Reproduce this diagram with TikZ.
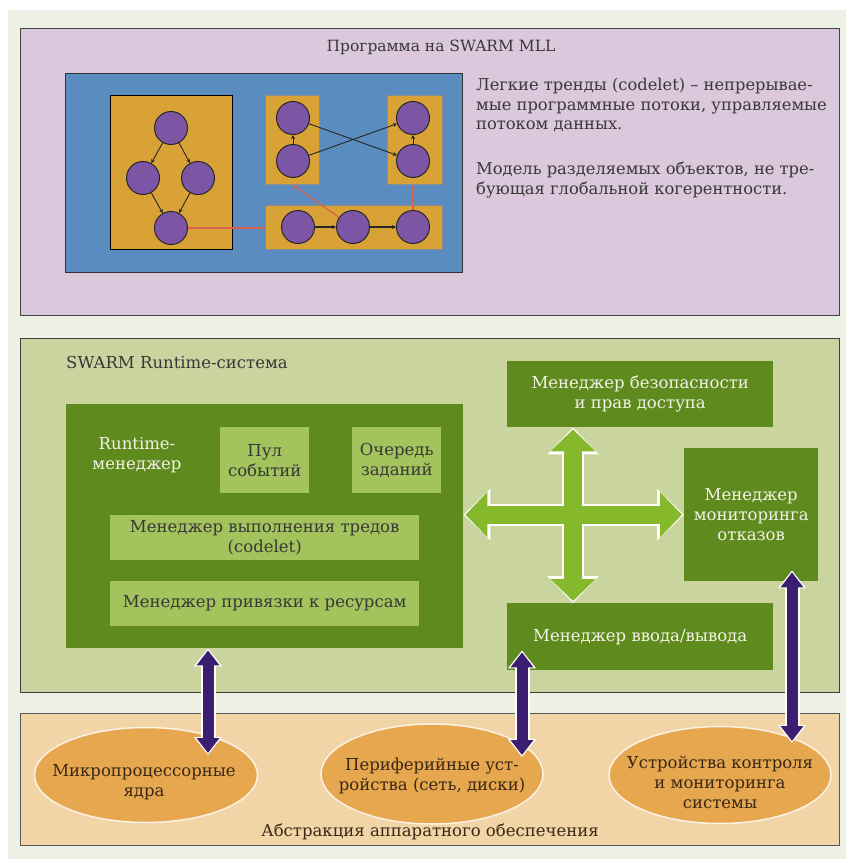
\documentclass[tikz,border=0pt]{standalone}
\usepackage{fontspec}
\setmainfont{DejaVu Serif}
\usetikzlibrary{arrows.meta,calc,shapes.geometric}
\definecolor{pagebg}{HTML}{EEF1E6}
\definecolor{lilac}{HTML}{DCC8DC}
\definecolor{bluebg}{HTML}{5B8CBF}
\definecolor{gold}{HTML}{D9A236}
\definecolor{violet}{HTML}{7D55A5}
\definecolor{redl}{HTML}{D8624E}
\definecolor{olivebg}{HTML}{C9D49E}
\definecolor{dgreen}{HTML}{5E8A1E}
\definecolor{lgreen}{HTML}{A3C35C}
\definecolor{agreen}{HTML}{86B82C}
\definecolor{peach}{HTML}{F2D5A6}
\definecolor{orell}{HTML}{E6A74F}
\definecolor{indigo}{HTML}{3B1E70}
\definecolor{txt}{HTML}{383838}
\definecolor{brown}{HTML}{3A2816}
\definecolor{wtxt}{HTML}{F2F2E6}
\tikzset{
  box/.style={rectangle, inner sep=0pt, anchor=north west},
  panel/.style={box, draw=black!75, line width=1.4pt},
  gbox/.style={box, fill=dgreen},
  lbox/.style={box, fill=lgreen},
  obox/.style={box, fill=gold, draw=black!45, line width=0.8pt},
  cnode/.style={circle, fill=violet, draw=black!85, line width=1pt, minimum size=33pt, inner sep=0pt},
  garr/.style={-{Stealth[length=4pt,width=4pt]}, black!85, line width=0.9pt},
  barr/.style={-{Stealth[length=4pt,width=4pt]}, black!85, line width=1.6pt},
  rarr/.style={-{Stealth[length=4pt,width=4pt]}, redl, line width=1.2pt},
  ell/.style={ellipse, fill=orell, draw=white!85!orell, line width=1.5pt, inner sep=0pt},
  lab/.style={font=\fontsize{16.5}{20}\selectfont, align=center, inner sep=0pt},
  ttlstyle/.style={font=\fontsize{15.5}{19}\selectfont, align=center, inner sep=0pt},
  parastyle/.style={font=\fontsize{16.3}{19.5}\selectfont, align=left, inner sep=0pt},
}
\begin{document}
\begin{tikzpicture}[x=1pt,y=-1pt]
\useasboundingbox (0,0) rectangle (846,859);
\fill[white] (0,0) rectangle (846,859);
\fill[pagebg] (8,10) rectangle (846,859);

% ---------- top panel ----------
\node[panel, fill=lilac, minimum width=819pt, minimum height=287pt] (top) at (20,28) {};
\node[ttlstyle, text=txt] (ttl) at (441,47) {Программа на SWARM MLL};
\node[box, fill=bluebg, draw=black!80, line width=1.2pt, minimum width=397pt, minimum height=199pt] (blue) at (65,73) {};
\node[box, fill=gold, draw=black, line width=1.3pt, minimum width=122pt, minimum height=154pt] (lb) at (110,95) {};
\node[obox, minimum width=54pt, minimum height=89pt] (tm) at (265,95) {};
\node[obox, minimum width=55pt, minimum height=89pt] (tr) at (387,95) {};
\node[obox, minimum width=177pt, minimum height=44pt] (bb) at (265,205) {};

\node[cnode] (l1) at (171,128) {};
\node[cnode] (l2) at (143,178) {};
\node[cnode] (l3) at (198,178) {};
\node[cnode] (l4) at (171,228) {};
\node[cnode] (m1) at (293,118) {};
\node[cnode] (m2) at (293,161) {};
\node[cnode] (r1) at (413,118) {};
\node[cnode] (r2) at (413,161) {};
\node[cnode] (b1) at (298,227) {};
\node[cnode] (b2) at (353,227) {};
\node[cnode] (b3) at (413,227) {};

\draw[garr] (l1) -- (l2);
\draw[garr] (l1) -- (l3);
\draw[garr] (l2) -- (l4);
\draw[garr] (l3) -- (l4);
\draw[garr] (m2) -- (m1);
\draw[garr] (r2) -- (r1);
\draw[garr] (m1) -- (r2);
\draw[garr] (m2) -- (r1);
\draw[barr] (b1) -- (b2);
\draw[barr] (b2) -- (b3);
\draw[rarr] (l4) -- (l4 -| bb.west);
\draw[rarr] (b2) -- (tm.south);
\draw[rarr] (b3) -- (tr.south -| b3);

\node[parastyle, text=txt, anchor=north west] (para) at (476,78)
 {Легкие тренды (codelet) – непрерывае-\\
  мые программные потоки, управляемые\\
  потоком данных.\\[25.5pt]
  Модель разделяемых объектов, не тре-\\
  бующая глобальной когерентности.};

% ---------- middle panel ----------
\node[panel, fill=olivebg, minimum width=819pt, minimum height=354pt] (mid) at (20,338) {};
\node[lab, text=txt, anchor=west] (mttl) at (66,362) {SWARM Runtime-система};

\node[gbox, minimum width=397pt, minimum height=244pt] (rt) at (66,404) {};
\node[lab, text=wtxt] (rtl) at (137,455) {Runtime-\\менеджер};
\node[lbox, minimum width=89pt, minimum height=66pt] (pool) at (220,427) {};
\node[lab, text=txt] at (pool.center) {Пул\\событий};
\node[lbox, minimum width=89pt, minimum height=66pt] (queue) at (352,427) {};
\node[lab, text=txt] at (queue.center) {Очередь\\заданий};
\node[lbox, minimum width=309pt, minimum height=45pt] (exec) at (110,515) {};
\node[lab, text=txt] at (exec.center) {Менеджер выполнения тредов\\(codelet)};
\node[lbox, minimum width=309pt, minimum height=45pt] (bind) at (110,581) {};
\node[lab, text=txt] at (bind.center) {Менеджер привязки к ресурсам};

\node[gbox, minimum width=266pt, minimum height=66pt] (sec) at (507,361) {};
\node[lab, text=wtxt] at (sec.center) {Менеджер безопасности\\и прав доступа};
\node[gbox, minimum width=134pt, minimum height=133pt] (flt) at (684,448) {};
\node[lab, text=wtxt] at (flt.center) {Менеджер\\мониторинга\\отказов};
\node[gbox, minimum width=266pt, minimum height=67pt] (io) at (507,603) {};
\node[lab, text=wtxt] at (io.center) {Менеджер ввода/вывода};

\coordinate (vx) at (573,0);
\coordinate (hl) at (flt.west -| rt.east);
\coordinate (vt) at (sec.south -| vx);
\coordinate (vb) at (io.north -| vx);
\foreach \s/\e in {hl/flt.west, vt/vb} {
  \draw[white, line width=22pt, {Triangle[width=50pt,length=27pt]}-{Triangle[width=50pt,length=27pt]}] (\s) -- (\e);
}
\foreach \s/\e in {hl/flt.west, vt/vb} {
  \draw[agreen, line width=18pt, shorten <=2pt, shorten >=2pt, {Triangle[width=44pt,length=22pt]}-{Triangle[width=44pt,length=22pt]}] (\s) -- (\e);
}

% ---------- bottom panel ----------
\node[panel, fill=peach, draw=black!65, line width=1.2pt, minimum width=819pt, minimum height=132pt] (bot) at (20,713) {};
\node[ell, minimum width=223pt, minimum height=95pt] (e1) at (146,775) {};
\node[ell, minimum width=222pt, minimum height=100pt] (e2) at (432,774) {};
\node[ell, minimum width=222pt, minimum height=97pt] (e3) at (720,775) {};
\node[lab, text=brown] (e1t) at (144,782) {Микропроцессорные\\ядра};
\node[lab, text=brown] (e2t) at (432,776) {Периферийные уст-\\ройства (сеть, диски)};
\node[lab, text=brown] (e3t) at (720,782) {Устройства контроля\\и мониторинга\\системы};
\node[lab, text=brown] (btl) at (430,832) {Абстракция аппаратного обеспечения};

\coordinate (p1) at (208,755);
\coordinate (p2) at (522,757);
\coordinate (p3) at (792,743);
\coordinate (q1) at (rt.south -| p1);
\coordinate (q2) at ($(io.south -| p2)+(0,-20)$);
\coordinate (q3) at ($(flt.south -| p3)+(0,-11)$);
\foreach \s/\e in {q1/p1, q2/p2, q3/p3} {
  \draw[white, line width=15pt, {Triangle[width=27pt,length=18pt]}-{Triangle[width=27pt,length=18pt]}] (\s) -- (\e);
}
\foreach \s/\e in {q1/p1, q2/p2, q3/p3} {
  \draw[indigo, line width=11pt, shorten <=2pt, shorten >=2pt, {Triangle[width=22pt,length=15pt]}-{Triangle[width=22pt,length=15pt]}] (\s) -- (\e);
}
\end{tikzpicture}
\end{document}
